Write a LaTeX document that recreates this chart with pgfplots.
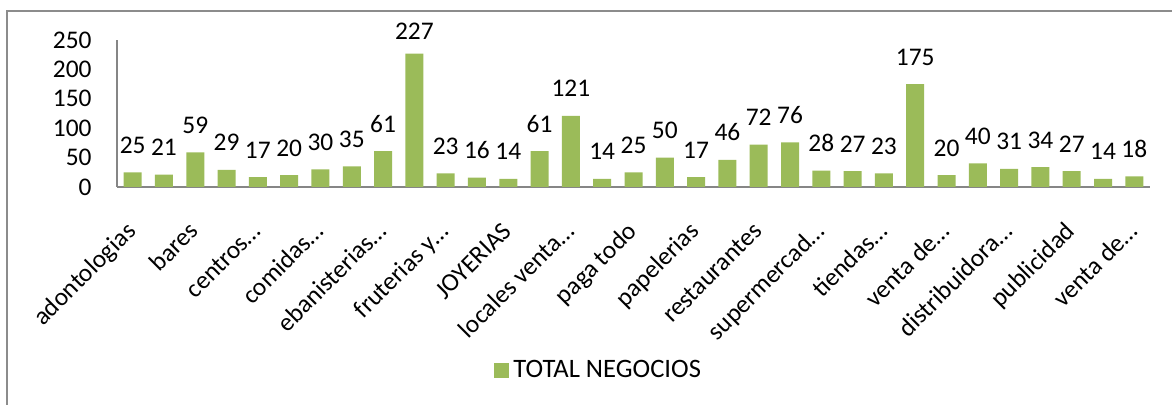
\documentclass[border=0pt]{standalone}
\usepackage{fontspec}
\setmainfont{Carlito}
\usepackage{pgfplots}
\usepackage{pgfplotstable}
\pgfplotsset{compat=1.18}
\definecolor{bargreen}{HTML}{9BBB59}
\definecolor{axisgray}{HTML}{868686}
\definecolor{framegray}{HTML}{8C8C8C}
\pgfplotstableread{
x y dy
1 25 9.5
2 21 9.5
3 59 9.5
4 29 9.5
5 17 9.5
6 20 9.5
7 30 9.5
8 35 9.5
9 61 9.5
10 227 7
11 23 9.5
12 16 9.5
13 14 9.5
14 61 9.5
15 121 9.5
16 14 9.5
17 25 9.5
18 50 9.5
19 17 9.5
20 46 9.5
21 72 9.5
22 76 9.5
23 28 9.5
24 27 9.5
25 23 9.5
26 175 9.5
27 20 9.5
28 40 9.5
29 31 9.5
30 34 9.5
31 27 9.5
32 14 9.5
33 18 9.5
}\datatable
\begin{document}
\begin{tikzpicture}[font=\fontsize{12.7pt}{15pt}\selectfont]
\path[use as bounding box] (0,0) rectangle (586pt,-202.5pt);
\draw[framegray, line width=0.75pt] (3.4pt,-210pt) -- (3.4pt,-5.5pt) -- (590pt,-5.5pt);
\begin{axis}[
  at={(58.5pt,-93.5pt)}, anchor=south west,
  scale only axis, width=516.5pt, height=73.5pt,
  xmin=0.5, xmax=33.5, ymin=0, ymax=250,
  ytick={0,50,100,150,200,250},
  xtick={1,3,...,33},
  xticklabels={adontologias,bares,centros…,comidas…,ebanisterias…,fruterias y…,JOYERIAS,locales venta…,paga todo,papelerias,restaurantes,supermercad…,tiendas…,venta de…,distribuidora…,publicidad,venta de…},
  axis x line=bottom, axis y line=left,
  axis line style={-, axisgray, line width=0.75pt},
  major tick length=0pt,
  xticklabel style={rotate=45, anchor=east, inner sep=0pt, text height=8.7pt, text depth=2.5pt, xshift=-14.4pt, yshift=-14.7pt},
  yticklabel style={anchor=east, inner sep=0pt, xshift=-12.5pt},
  /pgf/number format/assume math mode=true,
  ybar, bar width=9pt,
  clip=false,
  nodes near coords,
  visualization depends on={\thisrow{dy} \as \labeldy},
  nodes near coords style={anchor=base, yshift=\labeldy pt, text=black},
  legend style={at={(axis description cs:0.365,-1.245)}, anchor=west, draw=none, fill=none, inner sep=0pt,
    font=\fontsize{13.3pt}{15pt}\selectfont},
  legend image code/.code={\fill[bargreen] (0pt,-3.75pt) rectangle (7.5pt,3.75pt);},
]
\addplot[fill=bargreen, draw=none] table[x=x, y=y] {\datatable};
\legend{TOTAL NEGOCIOS}
\end{axis}
\end{tikzpicture}
\end{document}
